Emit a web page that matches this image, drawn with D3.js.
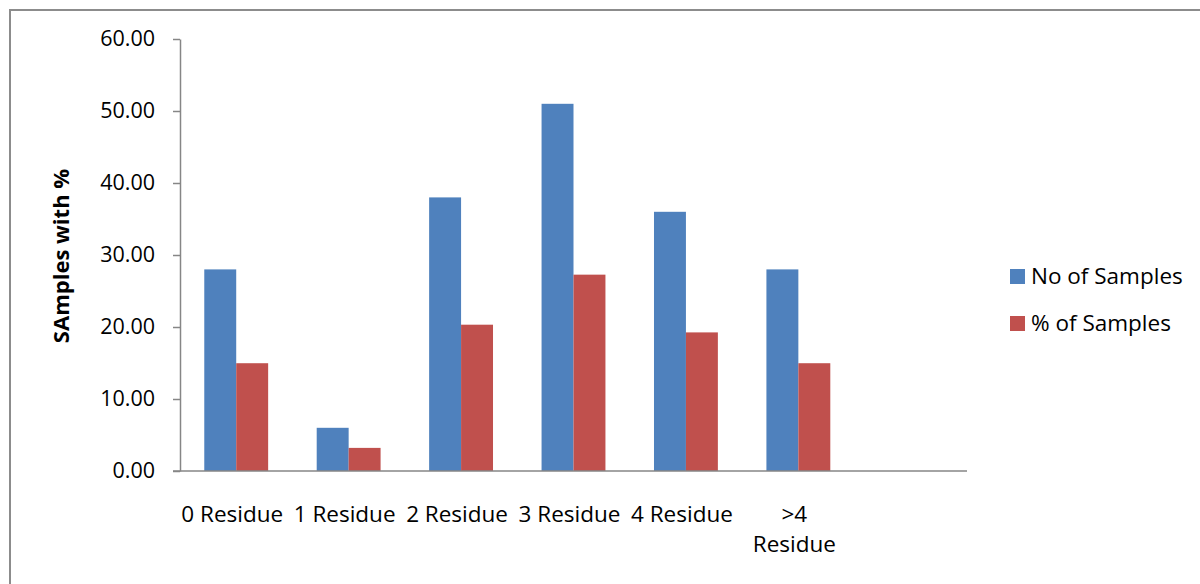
<!DOCTYPE html>
<head>
  <meta charset="utf-8">
  <script src="https://d3js.org/d3.v7.min.js"></script>
  <style>
    body { margin: 0; background: white; }
    text { font-family: "Open Sans", sans-serif; fill: #000; }
  </style>
</head>

<body>
  <svg width="1200" height="584"></svg>

  <script>
    // chart data
    const categories = ['0 Residue', '1 Residue', '2 Residue', '3 Residue', '4 Residue', '>4\nResidue', ''];
    const seriesNames = ['No of Samples', '% of Samples'];
    const noOfSamples = [28, 6, 38, 51, 36, 28];
    const pctOfSamples = [14.97, 3.21, 20.32, 27.27, 19.25, 14.97];
    const yTicks = [0, 10, 20, 30, 40, 50, 60];
    const colors = ['#4f81bd', '#c0504d'];

    const svg = d3.select('svg');
    const plotLeft = 180, plotRight = 967, plotTop = 39, plotBottom = 471;

    // chart frame (only top and left edges are visible)
    svg.append('path')
      .attr('d', 'M10,584 V10 H1200')
      .attr('fill', 'none')
      .attr('stroke', '#8c8c8c')
      .attr('stroke-width', 2);

    const x0 = d3.scaleBand()
      .domain(categories)
      .range([plotLeft, plotRight]);
    const x1 = d3.scaleBand()
      .domain(seriesNames)
      .range([0, x0.bandwidth()])
      .paddingOuter(0.76);
    const y = d3.scaleLinear()
      .domain([0, 60])
      .range([plotBottom, plotTop]);

    const rows = noOfSamples.map((v, i) => ({
      cat: categories[i],
      values: [v, pctOfSamples[i]]
    }));

    const groups = svg.append('g').selectAll('g')
      .data(rows)
      .enter().append('g')
      .attr('transform', d => `translate(${x0(d.cat)},0)`);

    groups.selectAll('rect')
      .data(d => d.values.map((v, j) => ({ name: seriesNames[j], v, j })))
      .enter().append('rect')
      .attr('x', d => x1(d.name))
      .attr('width', x1.bandwidth())
      .attr('y', d => y(d.v))
      .attr('height', d => y(0) - y(d.v))
      .attr('fill', d => colors[d.j]);

    // y axis
    const yAxis = svg.append('g')
      .attr('transform', `translate(${plotLeft},0)`)
      .call(d3.axisLeft(y).tickValues(yTicks).tickFormat(d3.format('.2f')).tickSize(7).tickSizeOuter(0).tickPadding(18));
    yAxis.selectAll('line, path').attr('stroke', '#868686').attr('stroke-width', 1.5);
    yAxis.selectAll('text').attr('font-size', 21.5).attr('font-family', '"Open Sans", sans-serif');

    // x axis line
    svg.append('line')
      .attr('x1', plotLeft - 7).attr('x2', plotRight)
      .attr('y1', y(0)).attr('y2', y(0))
      .attr('stroke', '#868686').attr('stroke-width', 1.5);

    // category labels
    const xl = svg.append('g').selectAll('text')
      .data(categories.filter(c => c))
      .enter().append('text')
      .attr('text-anchor', 'middle')
      .attr('font-size', 22.5)
      .attr('y', 522);
    xl.each(function (d) {
      const t = d3.select(this);
      d.split('\n').forEach((line, k) => {
        t.append('tspan')
          .attr('x', x0(d) + x0.bandwidth() / 2 - 4)
          .attr('dy', k === 0 ? 0 : 30)
          .text(line);
      });
    });

    // y axis title
    svg.append('text')
      .attr('transform', 'translate(69,256) rotate(-90)')
      .attr('text-anchor', 'middle')
      .attr('font-size', 22)
      .attr('font-weight', 'bold')
      .text('SAmples with %');

    // legend
    const legend = svg.append('g').selectAll('g')
      .data(seriesNames)
      .enter().append('g')
      .attr('transform', (d, i) => `translate(1010,${269 + i * 47})`);
    legend.append('rect')
      .attr('width', 15).attr('height', 15)
      .attr('fill', (d, i) => colors[i]);
    legend.append('text')
      .attr('x', 21).attr('y', 15)
      .attr('font-size', 22.5)
      .text(d => d);
  </script>
</body>
